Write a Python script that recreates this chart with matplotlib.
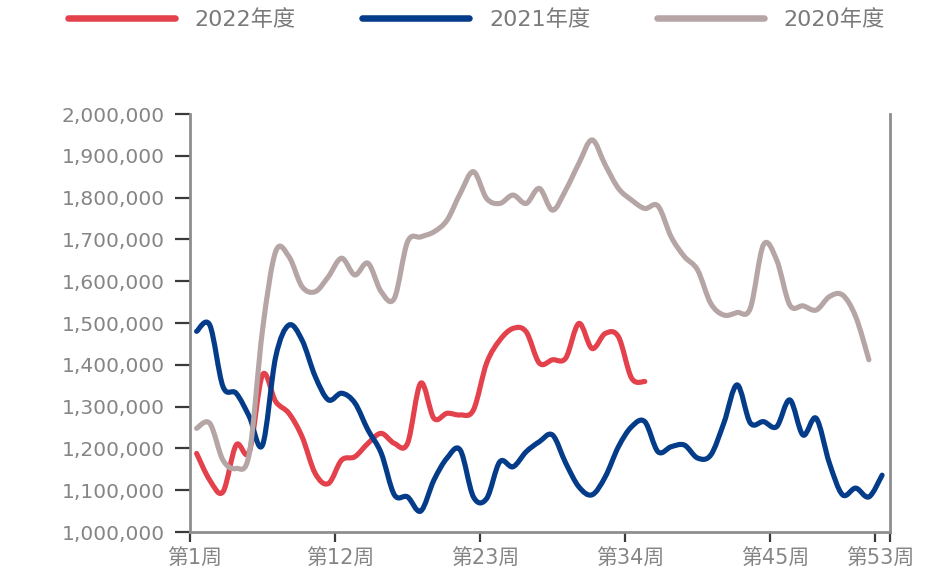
import matplotlib
matplotlib.use("Agg")
import matplotlib.pyplot as plt
import matplotlib.transforms as mtransforms
from matplotlib.path import Path
from matplotlib.patches import PathPatch
from matplotlib.lines import Line2D
from matplotlib.ticker import FuncFormatter

plt.rcParams['font.family'] = ['DejaVu Sans', 'Noto Sans CJK SC']

# weekly values (week 1 onward)
y2022 = [1188000, 1124000, 1096000, 1208000, 1192000, 1376000, 1312000, 1284000, 1228000, 1140000,
         1116000, 1172000, 1180000, 1212000, 1236000, 1212000, 1212000, 1356000, 1272000, 1284000,
         1280000, 1292000, 1404000, 1459000, 1487000, 1479000, 1404000, 1412000, 1416000, 1499000,
         1439000, 1475000, 1467000, 1368000, 1360000]
y2021 = [1480000, 1495000, 1348000, 1332000, 1276000, 1208000, 1419000, 1495000, 1459000, 1372000,
         1316000, 1332000, 1309000, 1244000, 1189000, 1089000, 1084000, 1050000, 1124000, 1177000,
         1196000, 1084000, 1080000, 1168000, 1156000, 1192000, 1216000, 1232000, 1165000, 1108000,
         1089000, 1132000, 1204000, 1252000, 1264000, 1192000, 1204000, 1208000, 1177000, 1184000,
         1261000, 1352000, 1261000, 1264000, 1252000, 1316000, 1232000, 1272000, 1165000, 1089000,
         1105000, 1084000, 1136000]
y2020 = [1248000, 1260000, 1172000, 1152000, 1188000, 1483000, 1671000, 1659000, 1587000, 1575000,
         1611000, 1655000, 1615000, 1643000, 1575000, 1559000, 1694000, 1706000, 1718000, 1746000,
         1810000, 1862000, 1798000, 1786000, 1806000, 1786000, 1822000, 1770000, 1818000, 1882000,
         1938000, 1878000, 1822000, 1794000, 1774000, 1780000, 1706000, 1659000, 1627000, 1547000,
         1519000, 1525000, 1535000, 1687000, 1651000, 1543000, 1541000, 1531000, 1563000, 1567000,
         1515000, 1412000]

series = [("2022年度", y2022, "#E3414B"),
          ("2021年度", y2021, "#043C89"),
          ("2020年度", y2020, "#B5A6A5")]

tick_weeks = [1, 12, 23, 34, 45, 53]
tick_labels = ["第%d周" % w for w in tick_weeks]


def smooth_path(xs, ys):
    """Smoothed polyline through the points as cubic Bezier segments."""
    n = len(xs)
    verts = [(xs[0], ys[0])]
    codes = [Path.MOVETO]
    for i in range(n - 1):
        ip, inx = max(i - 1, 0), min(i + 2, n - 1)
        c1 = (xs[i] + (xs[i + 1] - xs[ip]) / 6, ys[i] + (ys[i + 1] - ys[ip]) / 6)
        c2 = (xs[i + 1] - (xs[inx] - xs[i]) / 6, ys[i + 1] - (ys[inx] - ys[i]) / 6)
        verts += [c1, c2, (xs[i + 1], ys[i + 1])]
        codes += [Path.CURVE4] * 3
    return Path(verts, codes)


fig = plt.figure(figsize=(9.34, 5.72), dpi=100)
ax = fig.add_axes([190 / 934, 1 - 532 / 572, 700 / 934, 418 / 572])

lw = 3.7
handles = []
for name, vals, color in series:
    # category centres sit half a week right of the tick marks
    xs = [i + 0.5 for i in range(len(vals))]
    patch = PathPatch(smooth_path(xs, vals), facecolor="none", edgecolor=color,
                      lw=lw, capstyle="round", joinstyle="round")
    ax.add_patch(patch)
    handles.append(Line2D([], [], color=color, lw=4.7, solid_capstyle="round", label=name))

ax.set_xlim(0, 53.1)
ax.set_ylim(1000000, 2000000)
ax.set_yticks(range(1000000, 2000001, 100000))
ax.yaxis.set_major_formatter(FuncFormatter(lambda v, p: "{:,}".format(int(v))))
ax.set_xticks([w - 1 for w in tick_weeks] + [53.1])
ax.set_xticklabels(tick_labels + [""])

for side in ["left", "right", "bottom"]:
    ax.spines[side].set_color("#8e8e8e")
    ax.spines[side].set_linewidth(2.0)
ax.spines["top"].set_visible(False)

ax.tick_params(axis="y", length=11, width=1.6, color="#3a3a3a", pad=7,
               labelsize=14.5, labelcolor="#858585")
ax.tick_params(axis="x", length=7, width=1.6, color="#3a3a3a", pad=5,
               labelsize=15, labelcolor="#858585")

shift = mtransforms.ScaledTranslation(5 / 100, 0, fig.dpi_scale_trans)
for lab in ax.get_xticklabels():
    lab.set_transform(lab.get_transform() + shift)

fig.legend(handles=handles, loc="center", bbox_to_anchor=(0.51, 0.966), ncol=3,
           frameon=False, fontsize=16, handlelength=4.8, handletextpad=0.9,
           columnspacing=3.0, labelcolor="#7a7a7a")

fig.savefig("out.png", dpi=100)
